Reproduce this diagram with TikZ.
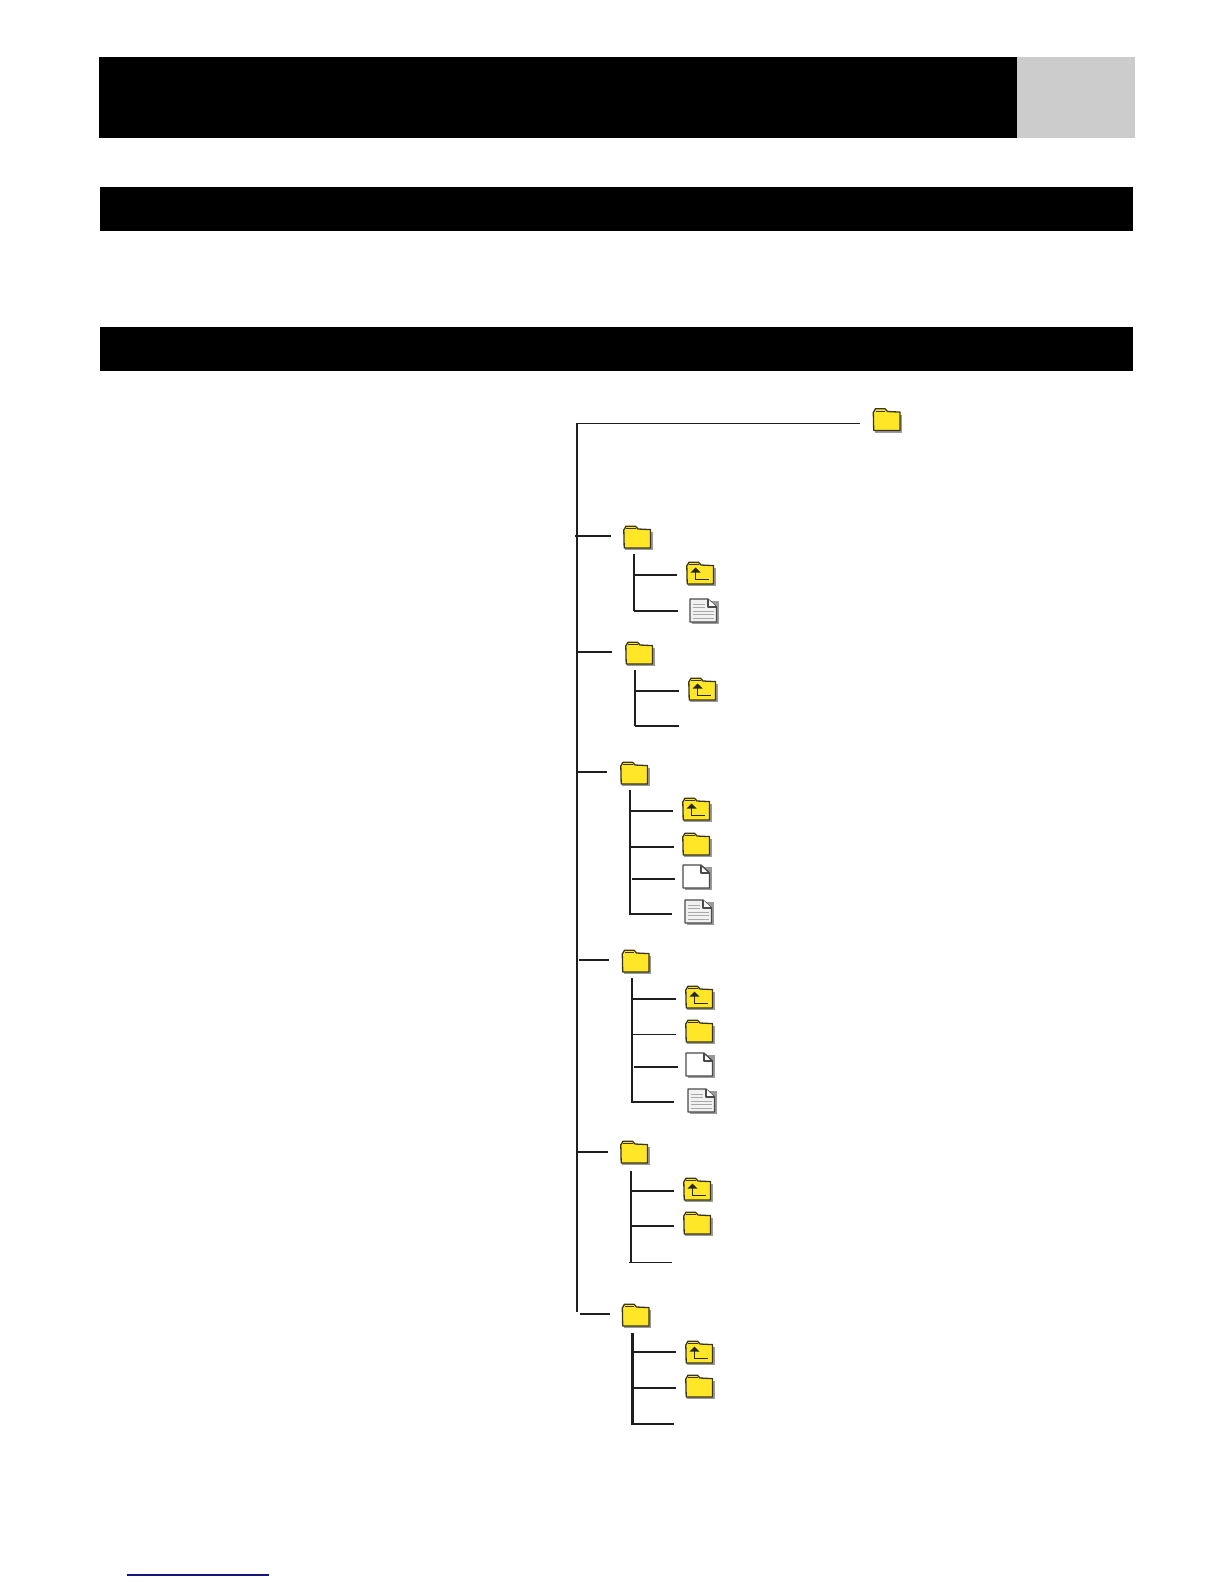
\documentclass[tikz,border=0pt]{standalone}
\usetikzlibrary{calc}
\definecolor{folderyellow}{HTML}{FFE727}
\definecolor{iconline}{HTML}{3B3520}
\definecolor{iconshadow}{HTML}{9A9A9A}
\definecolor{docline}{HTML}{4A4A4A}
\definecolor{docfill}{HTML}{F1F1F1}
\definecolor{docrule}{HTML}{A8A8A8}
\definecolor{sidegray}{HTML}{CCCCCC}
\definecolor{linknavy}{HTML}{14147A}
\tikzset{
  x=1bp,y=-1bp,
  band/.style={fill=black,draw=none},
  thick line/.style={line width=1.8bp,draw=black!88},
  thin line/.style={line width=1.1bp,draw=black!88},
  heavy line/.style={line width=2.8bp,draw=black!88},
  iconoutline/.style={line width=1.3bp,draw=iconline,line join=round},
  folder/.pic={
    \fill[iconshadow] (2,7) -- (29.5,7) -- (29.5,25) -- (2,25) -- cycle;
    \filldraw[iconoutline,fill=folderyellow]
      (0.8,5) -- (3,1.2) -- (12.5,1.2) -- (15,4) -- (27.5,4.6) -- (27.5,23) -- (1.2,23) -- cycle;
    \draw[line width=0.9bp,draw=iconline] (3,3.6) -- (12.5,3.6);
  },
  upfolder/.pic={
    \fill[iconshadow] (2,7) -- (29.5,7) -- (29.5,25) -- (2,25) -- cycle;
    \filldraw[iconoutline,fill=folderyellow]
      (0.8,5) -- (3,1.2) -- (12.5,1.2) -- (15,4) -- (27.5,4.6) -- (27.5,23) -- (1.2,23) -- cycle;
    \draw[line width=0.9bp,draw=iconline] (3,3.6) -- (12.5,3.6);
    \draw[line width=1.3bp,draw=black!85] (9.5,10) -- (9.5,18.5) -- (23,18.5);
    \fill[black!85] (9.5,6.5) -- (14.5,11.5) -- (4.5,11.5) -- cycle;
  },
  blankdoc/.pic={
    \fill[iconshadow] (2.5,3) -- (29.5,3) -- (29.5,26) -- (2.5,26) -- cycle;
    \filldraw[line width=1.3bp,draw=docline,fill=white,line join=round]
      (1,1) -- (19,1) -- (27.5,9) -- (27.5,24) -- (1,24) -- cycle;
    \draw[line width=1.3bp,draw=docline,line join=round] (19,1) -- (19,9) -- (27.5,9);
  },
  textdoc/.pic={
    \fill[iconshadow] (2.5,3) -- (29.5,3) -- (29.5,26) -- (2.5,26) -- cycle;
    \filldraw[line width=1.3bp,draw=docline,fill=docfill,line join=round]
      (1,1) -- (19,1) -- (27.5,9) -- (27.5,24) -- (1,24) -- cycle;
    \fill[white] (19,1) -- (27.5,9) -- (19,9) -- cycle;
    \draw[line width=1.3bp,draw=docline,line join=round] (19,1) -- (19,9) -- (27.5,9);
    \foreach \ry/\rx in {6/16,9.5/16,13/24.5,16.5/24.5,20/24.5}
      \draw[line width=1bp,draw=docrule] (4,\ry) -- (\rx,\ry);
  },
}
% connector between two named coordinates
\newcommand{\connector}[6]{%
  \coordinate (#2-a) at (#3,#4);
  \coordinate (#2-b) at (#5,#6);
  \draw[#1] (#2-a) -- (#2-b);}
\begin{document}
\begin{tikzpicture}
\useasboundingbox (0,0) rectangle (1224,1584);
% header bands
\path[band] (99,57) rectangle (1017,137.7);
\path[fill=sidegray] (1017,57) rectangle (1135,137.7);
\path[band] (100,187) rectangle (1133,230.7);
\path[band] (100,327) rectangle (1133,370.7);
% main trunk
\connector{thick line}{trunk}{576.7}{423.3}{576.7}{1312}
\connector{thin line,line width=1.3bp}{top}{576}{423.3}{860}{423.3}
\pic at (872.5,407.5) {folder};
% group 1
\connector{thick line}{g1in}{575}{536}{611}{536}
\connector{thick line}{g1t}{633.7}{554}{633.7}{611}
\connector{thick line}{g1a}{633.7}{574.7}{677}{574.7}
\connector{thick line}{g1b}{633.7}{610.7}{678}{610.7}
\pic at (623,525) {folder};
\pic at (686,561) {upfolder};
\pic at (689,598) {textdoc};
% group 2
\connector{thick line}{g2in}{577}{651.7}{612}{651.7}
\connector{thick line}{g2t}{635}{670}{635}{726}
\connector{thick line}{g2a}{635}{691}{679}{691}
\connector{thick line}{g2b}{635}{725.7}{679}{725.7}
\pic at (625,641) {folder};
\pic at (688,677) {upfolder};
% group 3
\connector{thin line}{g3in}{577}{772}{606.7}{772}
\connector{thick line}{g3t}{630}{790}{630}{914.5}
\connector{thick line}{g3a}{630}{811}{673}{811}
\connector{thick line}{g3b}{630}{846.7}{674}{846.7}
\connector{thick line}{g3c}{632}{878.7}{675}{878.7}
\connector{thin line}{g3d}{629.5}{914}{672}{914}
\pic at (620,761) {folder};
\pic at (682,797) {upfolder};
\pic at (682,832) {folder};
\pic at (682,864) {blankdoc};
\pic at (684,899) {textdoc};
% group 4
\connector{thick line}{g4in}{579}{959.7}{609}{959.7}
\connector{thick line}{g4t}{632}{978}{632}{1102}
\connector{thick line}{g4a}{632}{999}{676}{999}
\connector{thin line}{g4b}{632}{1034.3}{676}{1034.3}
\connector{thick line}{g4c}{634}{1066.7}{678}{1066.7}
\connector{thick line}{g4d}{631}{1101.7}{674}{1101.7}
\pic at (621.5,949) {folder};
\pic at (685,985) {upfolder};
\pic at (685,1019) {folder};
\pic at (685,1052) {blankdoc};
\pic at (687,1088) {textdoc};
% group 5
\connector{thick line}{g5in}{577}{1151.7}{607.7}{1151.7}
\connector{thick line}{g5t}{631}{1171}{631}{1262}
\connector{thick line}{g5a}{631}{1191}{674}{1191}
\connector{thick line}{g5b}{631}{1225.7}{674}{1225.7}
\connector{thin line}{g5c}{629}{1262.3}{672}{1262.3}
\pic at (620,1140) {folder};
\pic at (683,1177) {upfolder};
\pic at (683,1211) {folder};
% group 6
\connector{thick line}{g6in}{580}{1313.7}{610}{1313.7}
\connector{heavy line}{g6t}{632.3}{1333}{632.3}{1424.5}
\connector{thin line}{g6a}{632}{1352}{676}{1352}
\connector{thick line}{g6b}{632}{1388}{676}{1388}
\connector{thin line}{g6c}{632}{1424}{674}{1424}
\pic at (621.5,1303) {folder};
\pic at (685,1340) {upfolder};
\pic at (685,1374) {folder};
% bottom rule
\connector{line width=1.2bp,draw=linknavy}{link}{127}{1575}{269}{1575}
\end{tikzpicture}
\end{document}
